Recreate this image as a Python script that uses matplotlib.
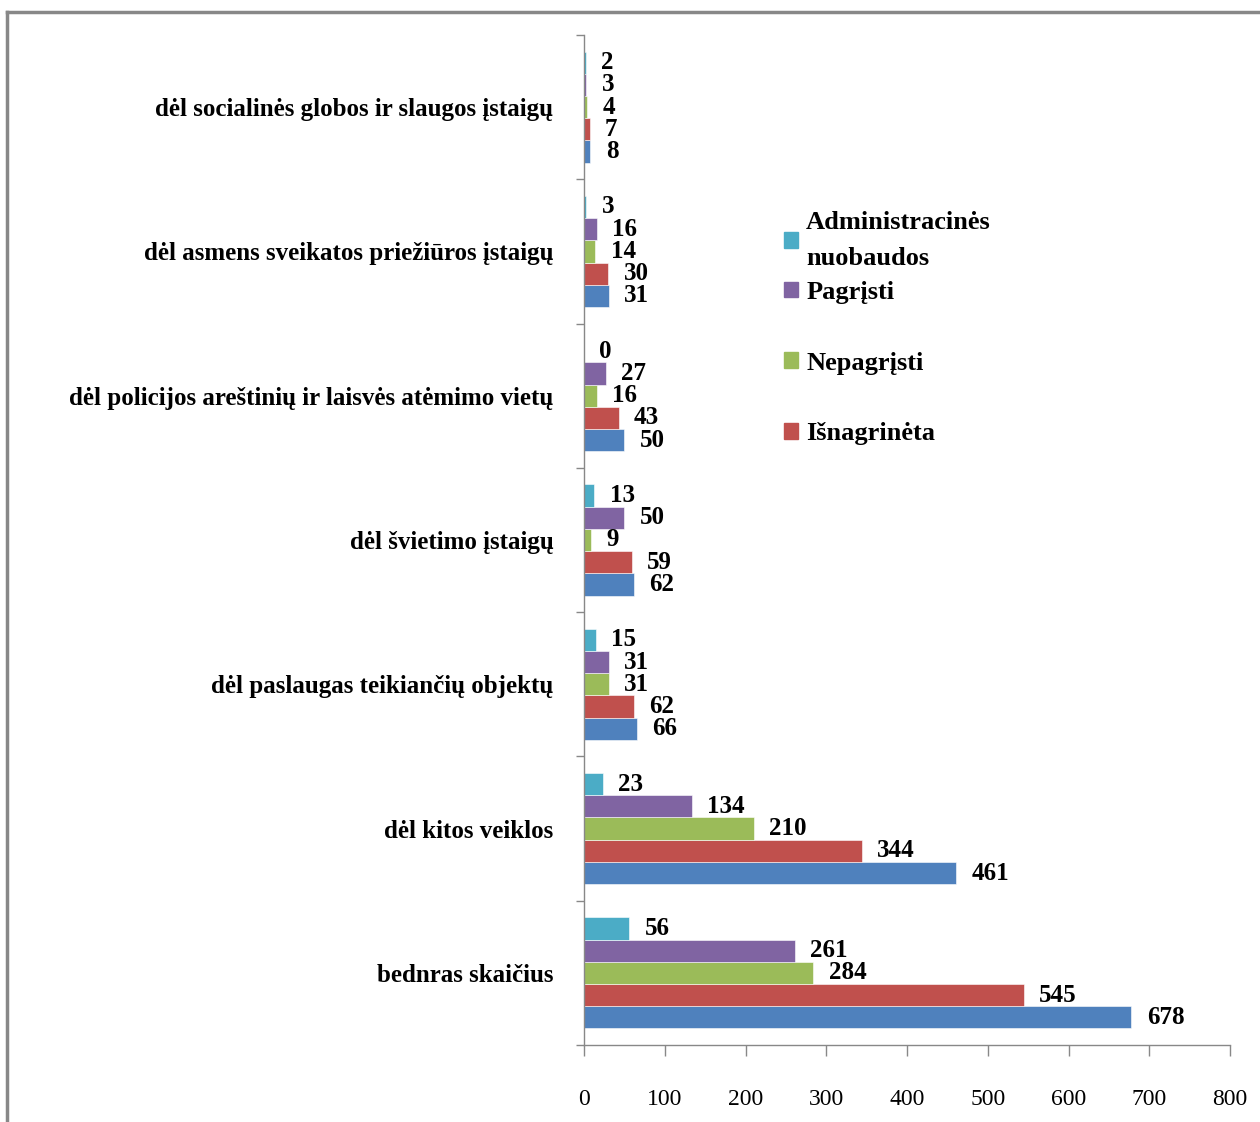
import matplotlib.pyplot as plt
import numpy as np
from matplotlib.patches import Patch
from matplotlib.lines import Line2D

plt.rcParams['font.family'] = ['Liberation Serif', 'DejaVu Serif']

categories = [
    'bednras skaičius',
    'dėl kitos veiklos',
    'dėl paslaugas teikiančių objektų',
    'dėl švietimo įstaigų',
    'dėl policijos areštinių ir laisvės atėmimo vietų',
    'dėl asmens sveikatos priežiūros įstaigų',
    'dėl socialinės globos ir slaugos įstaigų',
]

gauta = [678, 461, 66, 62, 50, 31, 8]
isnagrineta = [545, 344, 62, 59, 43, 30, 7]
nepagristi = [284, 210, 31, 9, 16, 14, 4]
pagristi = [261, 134, 31, 50, 27, 16, 3]
admin = [56, 23, 15, 13, 0, 3, 2]

series = [
    ('Gauta', gauta, '#4F81BD'),
    ('Išnagrinėta', isnagrineta, '#C0504D'),
    ('Nepagrįsti', nepagristi, '#9BBB59'),
    ('Pagrįsti', pagristi, '#8064A2'),
    ('Administracinės\nnuobaudos', admin, '#4BACC6'),
]

fig = plt.figure(figsize=(12.6, 11.22), dpi=100)
ax = fig.add_axes([584 / 1260, 1 - 1045 / 1122, (1230 - 584) / 1260, (1045 - 35) / 1122])

y = np.arange(len(categories))
h = 0.154
for i, (name, vals, col) in enumerate(series):
    b = ax.barh(y + (i - 2) * h, vals, height=h, color=col, edgecolor='white', linewidth=0.4)
    ax.bar_label(b, padding=11, fontsize=18, fontweight='bold')

ax.set_xlim(0, 800)
ax.set_ylim(-0.5, len(categories) - 0.5)
ax.set_xticks(np.arange(0, 801, 100))
ax.tick_params(axis='x', direction='out', length=8, width=1, color='#888888',
               pad=24, labelsize=17)
ax.set_yticks(np.arange(len(categories) + 1) - 0.5)
ax.set_yticklabels([])
ax.tick_params(axis='y', which='major', direction='out', length=6, width=1, color='#888888')
ax.set_yticks(y, minor=True)
ax.set_yticklabels(categories, minor=True, fontsize=18, fontweight='bold')
ax.tick_params(axis='y', which='minor', length=0, pad=22)

for s in ['top', 'right']:
    ax.spines[s].set_visible(False)
for s in ['left', 'bottom']:
    ax.spines[s].set_color('#888888')
    ax.spines[s].set_linewidth(1)

cols = {name: col for name, _, col in series}
leg1 = ax.legend(
    [Patch(color=cols['Administracinės\nnuobaudos']), Patch(color=cols['Pagrįsti'])],
    ['Administracinės\nnuobaudos', 'Pagrįsti'],
    loc='upper left', bbox_to_anchor=(760 / 1260, 1 - 187 / 1122),
    bbox_transform=fig.transFigure, frameon=False,
    prop={'weight': 'bold', 'size': 19}, handlelength=0.55, handleheight=0.55,
    handletextpad=0.3, labelspacing=0.4)
for t in leg1.get_texts():
    t.set_linespacing(1.75)
ax.add_artist(leg1)
leg2 = ax.legend(
    [Patch(color=cols['Nepagrįsti']), Patch(color=cols['Išnagrinėta'])],
    ['Nepagrįsti', 'Išnagrinėta'],
    loc='upper left', bbox_to_anchor=(760 / 1260, 1 - 328 / 1122),
    bbox_transform=fig.transFigure, frameon=False,
    prop={'weight': 'bold', 'size': 19}, handlelength=0.55, handleheight=0.55,
    handletextpad=0.3, labelspacing=1.8)

# outer frame (top and left edges only visible)
fig.add_artist(Line2D([7 / 1260, 1], [1 - 12 / 1122, 1 - 12 / 1122],
                      transform=fig.transFigure, color='#888888', linewidth=2.5))
fig.add_artist(Line2D([7 / 1260, 7 / 1260], [0, 1 - 12 / 1122],
                      transform=fig.transFigure, color='#888888', linewidth=2.5))

fig.savefig('out.png', dpi=100)
